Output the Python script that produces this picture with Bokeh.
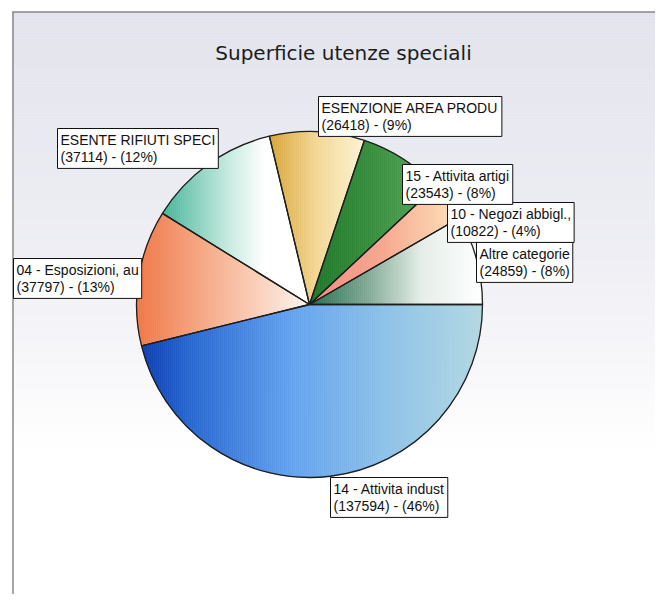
import math
from bokeh.plotting import figure
from bokeh.models import Range1d, Label
from bokeh.embed import file_html
from bokeh.resources import INLINE

# ---------------- data ----------------
title_text = "Superficie utenze speciali"
categories = [
    "Altre categorie",
    "10 - Negozi abbigl.,",
    "15 - Attivita artigi",
    "ESENZIONE AREA PRODU",
    "ESENTE RIFIUTI SPECI",
    "04 - Esposizioni, au",
    "14 - Attivita indust",
]
values = [24859, 10822, 23543, 26418, 37114, 37797, 137594]

# ---------------- style ----------------
# gradient stops (position across slice width, colour), left -> right
gradients = [
    [(0.0, "#246e50"), (0.35, "#86ac98"), (0.65, "#e6eee9"), (1.0, "#ffffff")],
    [(0.0, "#f08a80"), (0.5, "#f5a890"), (1.0, "#fde2b8")],
    [(0.0, "#1d7628"), (0.5, "#388e3e"), (1.0, "#5ca65e")],
    [(0.0, "#d9a63a"), (0.5, "#f3d898"), (1.0, "#fff4d6")],
    [(0.0, "#44b69a"), (0.45, "#c6ebdf"), (0.7, "#ffffff"), (1.0, "#ffffff")],
    [(0.0, "#f27644"), (0.5, "#f8b696"), (1.0, "#fff4ee")],
    [(0.0, "#0e3eb0"), (0.15, "#2a69d0"), (0.45, "#66a4ee"), (0.7, "#8cc0e8"), (1.0, "#b4d8e2")],
]
# label box top-left corners (page pixels)
label_pos = [(473, 239), (444, 199), (399, 161), (315, 93), (54, 125), (10, 255), (327, 474)]

W, H = 655, 594
PAGE_H = 602


def Y(img_y):
    return PAGE_H - img_y


cx, cy, r = 309, Y(304), 173


def hex2rgb(h):
    h = h.lstrip("#")
    return tuple(int(h[i:i + 2], 16) for i in (0, 2, 4))


def interp(stops, t):
    t = max(0.0, min(1.0, t))
    for (p0, c0), (p1, c1) in zip(stops[:-1], stops[1:]):
        if t <= p1:
            f = 0 if p1 == p0 else (t - p0) / (p1 - p0)
            a, b = hex2rgb(c0), hex2rgb(c1)
            return "#%02x%02x%02x" % tuple(int(round(a[i] + f * (b[i] - a[i]))) for i in range(3))
    return stops[-1][1]


def clip_half(pts, x0, keep_greater):
    out = []
    n = len(pts)
    for i in range(n):
        cxp, cyp = pts[i]
        px, py = pts[i - 1]
        cin = cxp >= x0 if keep_greater else cxp <= x0
        pin = px >= x0 if keep_greater else px <= x0
        if cin:
            if not pin:
                t = (x0 - px) / (cxp - px)
                out.append((x0, py + t * (cyp - py)))
            out.append((cxp, cyp))
        elif pin:
            t = (x0 - px) / (cxp - px)
            out.append((x0, py + t * (cyp - py)))
    return out


p = figure(width=W, height=H, x_range=Range1d(0, W), y_range=Range1d(PAGE_H - H, PAGE_H),
           output_backend="svg", toolbar_location=None, min_border=0,
           x_axis_type=None, y_axis_type=None)
p.grid.visible = False
p.outline_line_color = None
p.background_fill_color = "white"
p.border_fill_color = "white"

# background gradient (lavender at top fading to white)
bg_stops = [(0.0, "#e3e3ed"), (0.55, "#eeeef4"), (1.0, "#ffffff")]
bl, br, bt, bb = [], [], [], []
bc = []
y0, y1, step = 11, 450, 3
yy = y0
while yy < y1:
    bl.append(12); br.append(W); bt.append(Y(yy)); bb.append(Y(yy + step))
    bc.append(interp(bg_stops, (yy - y0) / (y1 - y0)))
    yy += step
p.quad(left=bl, right=br, top=bt, bottom=bb, fill_color=bc, line_color=bc, line_width=0.5)

# frame lines
p.line([12.5, 12.5], [Y(11), Y(602)], line_color="#8a8a8a", line_width=1.5)
p.line([12, W], [Y(11.5), Y(11.5)], line_color="#8a8a8a", line_width=1.5)

# pie slices
total = float(sum(values))
starts, ends = [], []
acc = 0.0
for v in values:
    starts.append(2 * math.pi * acc / total)
    acc += v
    ends.append(2 * math.pi * acc / total)

xs_all, ys_all, cols = [], [], []
for i in range(len(values)):
    a0, a1 = starts[i], ends[i]
    n = max(12, int(math.degrees(a1 - a0) * 1.5))
    poly = [(cx, cy)] + [(cx + r * math.cos(a0 + (a1 - a0) * k / n), cy + r * math.sin(a0 + (a1 - a0) * k / n))
                         for k in range(n + 1)]
    xmin = min(q[0] for q in poly)
    xmax = max(q[0] for q in poly)
    sw = 2.0
    x = xmin
    while x < xmax:
        piece = clip_half(poly, x, True)
        piece = clip_half(piece, min(x + sw, xmax), False) if piece else piece
        if len(piece) >= 3:
            xs_all.append([q[0] for q in piece])
            ys_all.append([q[1] for q in piece])
            cols.append(interp(gradients[i], (x + sw / 2 - xmin) / (xmax - xmin)))
        x += sw
p.patches(xs_all, ys_all, fill_color=cols, line_color=cols, line_width=0.6)

p.wedge(x=[cx] * len(values), y=[cy] * len(values), radius=r, start_angle=starts, end_angle=ends,
        fill_color=None, line_color="#1e1e1e", line_width=1.3)

# title
p.add_layout(Label(x=343, y=Y(52), text=title_text, text_align="center", text_baseline="alphabetic",
                   text_font="DejaVu Sans", text_font_size="20px", text_color="#1c1c1c"))

# labels
pad = 3
for i, name in enumerate(categories):
    pct = int(round(values[i] / total * 100))
    txt = f"{name}\n({values[i]}) - ({pct}%)"
    bx, by = label_pos[i]
    p.add_layout(Label(x=bx + pad, y=Y(by + pad), text=txt, text_align="left", text_baseline="top",
                       text_font="Liberation Sans", text_font_size="14px", text_color="#111111",
                       text_line_height=1.12,
                       background_fill_color="white", border_line_color="#111111", border_line_width=1,
                       padding=pad))

open("out.html", "w").write(file_html(p, INLINE))
